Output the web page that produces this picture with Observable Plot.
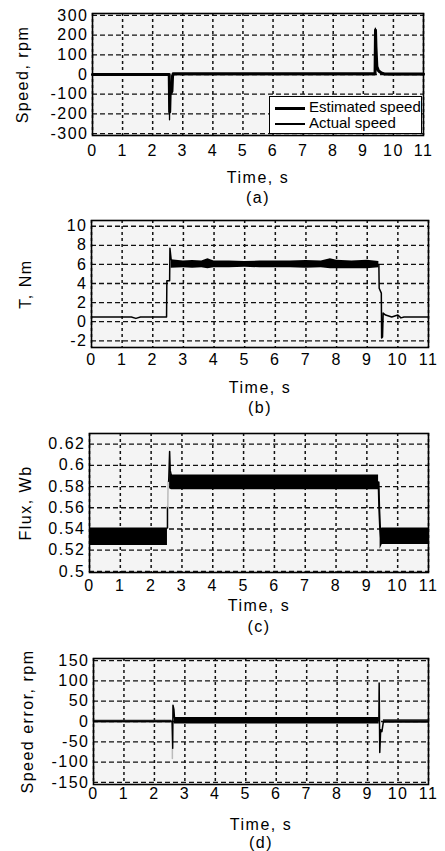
<!DOCTYPE html>
<html><head><meta charset="utf-8">
<script src="https://cdn.jsdelivr.net/npm/d3@7"></script>
<script src="https://cdn.jsdelivr.net/npm/@observablehq/plot@0.6"></script>
<style>
body{margin:0;background:#fff;}
#wrap{position:relative;width:445px;height:851px;overflow:hidden;}
#wrap > svg{position:absolute;left:0;}
#legend{position:absolute;left:269px;top:96px;width:151px;height:36px;border:1.5px solid #000;background:#fff;font-family:"Liberation Sans",Arial,sans-serif;font-size:15px;color:#000;}
#legend .row{position:absolute;left:5px;height:16px;line-height:16px;white-space:nowrap;}
#legend .ln{display:inline-block;width:30px;vertical-align:middle;margin-right:4px;background:#000;}
</style></head><body><div id="wrap"><div id="legend"><div class="row" style="top:2px"><span class="ln" style="height:3px"></span>Estimated speed</div><div class="row" style="top:18px"><span class="ln" style="height:1.5px"></span>Actual speed</div></div></div>
<script>
// ---- shared ----
const timeTicks = [0,1,2,3,4,5,6,7,8,9,10,11];

// ---- (a) speed ----
const speedTicks = [-300,-200,-100,0,100,200,300];
const speedActT = [0, 2.55, 2.56, 2.57, 2.63, 2.64, 2.66, 9.39, 9.4, 9.42, 9.44, 9.47, 9.52, 9.6, 9.68, 11];
const speedActV = [0, 0, -230, -100, -100, -5, 0, 0, 235, 150, 50, 25, 12, 5, 0, 0];
const speedEstT = [0, 2.55, 2.565, 2.58, 2.64, 2.66, 2.68, 9.39, 9.405, 9.42, 9.45, 9.5, 9.6, 9.7, 11];
const speedEstV = [0, 0, -190, -100, -85, -10, 4, 4, 225, 140, 40, 20, 8, 3, 3];

// ---- (b) torque ----
const torqueTicks = [-2,0,2,4,6,8,10];
const torqueT = [0, 1.3, 1.45, 1.6, 2.45, 2.46, 2.55, 2.56, 2.6, 2.7, 9.38, 9.39, 9.46, 9.47, 9.5, 9.52, 9.6, 9.8, 10.0, 10.1, 10.2, 11];
const torqueV = [0.5, 0.5, 0.35, 0.5, 0.5, 4.3, 4.3, 7.7, 6.5, 6.1, 6.0, 3.5, 3.0, -1.7, -1.6, 0.9, 0.7, 0.5, 0.7, 0.4, 0.5, 0.5];
const torqueBandT  = [2.6, 3.0, 3.3, 3.6, 3.8, 4.0, 4.5, 5.0, 5.5, 6.0, 6.5, 7.0, 7.5, 7.8, 8.0, 8.5, 9.0, 9.38];
const torqueBandHi = [6.5, 6.35, 6.4, 6.35, 6.6, 6.35, 6.35, 6.3, 6.35, 6.35, 6.35, 6.4, 6.35, 6.6, 6.45, 6.35, 6.45, 6.3];
const torqueBandLo = [5.6, 5.65, 5.6, 5.65, 5.55, 5.65, 5.65, 5.7, 5.65, 5.65, 5.65, 5.6, 5.65, 5.55, 5.55, 5.55, 5.55, 5.65];

// ---- (c) flux ----
const fluxTicks = [0.5,0.52,0.54,0.56,0.58,0.6,0.62];
const fluxBand1T = [0, 2.53], fluxBand1Lo = [0.5245, 0.5245], fluxBand1Hi = [0.541, 0.541];
const fluxBand2T = [2.6, 2.66, 9.38], fluxBand2Lo = [0.578, 0.577, 0.577], fluxBand2Hi = [0.595, 0.591, 0.591];
const fluxBand3T = [9.43, 9.5, 11], fluxBand3Lo = [0.521, 0.5255, 0.5255], fluxBand3Hi = [0.54, 0.541, 0.541];
const fluxStepT = [2.53, 2.53], fluxStepV = [0.541, 0.561];
const fluxGrayT = [2.54, 2.55], fluxGrayV = [0.561, 0.585];
const fluxSpikeT = [2.57, 2.6, 2.62, 2.66], fluxSpikeV = [0.585, 0.613, 0.595, 0.59];
const fluxDropT = [9.38, 9.4, 9.43, 9.47, 9.5], fluxDropV = [0.584, 0.56, 0.54, 0.528, 0.527];

// ---- (d) speed error ----
const errTicks = [-150,-100,-50,0,50,100,150];
const errBand1T = [0, 2.58], errBand1Lo = [-3, -3], errBand1Hi = [3, 3];
const errBand2T = [2.65, 9.38], errBand2Lo = [-6, -6], errBand2Hi = [10, 10];
const errBand3T = [9.52, 11], errBand3Lo = [-4, -4], errBand3Hi = [4, 4];
const errLineT = [0, 2.58, 2.6, 2.61, 2.64, 2.66, 9.37, 9.38, 9.4, 9.43, 9.47, 9.52, 11];
const errLineV = [0, 0, -66, 40, 30, 8, 2, 95, -76, -20, -25, 0, 0];
const errGrayT = [2.59, 2.59], errGrayV = [-66, -91];

// ---- helpers ----
const FONT = "'Liberation Sans', Arial, Helvetica, sans-serif";
const wrap = document.getElementById("wrap");
const pts = (T, V) => T.map((t, i) => ({t, v: V[i]}));
const band = (T, Lo, Hi) => T.map((t, i) => ({t, lo: Lo[i], hi: Hi[i]}));

function panel(o) {
  const p = Plot.plot({
    width: 445, height: o.height,
    marginTop: o.mt, marginBottom: o.mb, marginLeft: o.ml, marginRight: o.mr,
    style: {fontFamily: FONT, fontSize: "16px", fontWeight: "normal", color: "#000", background: "transparent", letterSpacing: "1.5px", overflow: "visible"},
    x: {domain: [0, 11]},
    y: {domain: o.yDomain},
    marks: [
      Plot.frame({fill: "#f4f4f4"}),
      Plot.ruleY(o.yTicks, {stroke: "#111", strokeWidth: 1.3, strokeDasharray: "5,3"}),
      Plot.ruleX(timeTicks, {stroke: "#111", strokeWidth: 1.5, strokeDasharray: "3,3"}),
      ...o.marks,
      Plot.frame({stroke: "#000", strokeWidth: 1.6}),
      Plot.axisX(timeTicks, {tickSize: 0, tickPadding: o.padX, label: null, tickFormat: d => String(d)}),
      Plot.axisY(o.yTicks, {tickSize: 0, tickPadding: 4, label: null, tickFormat: d => String(d)}),
      Plot.text([o.yLabel], {frameAnchor: "left", dx: o.yLabelDx, rotate: -90, textAnchor: "middle", lineAnchor: "middle", fontWeight: "normal"}),
      Plot.text(["Time, s"], {frameAnchor: "bottom", dy: o.timeDy, textAnchor: "middle", lineAnchor: "middle", fontWeight: "normal"}),
      Plot.text([o.tag], {frameAnchor: "bottom", dy: o.tagDy, textAnchor: "middle", lineAnchor: "middle", fontWeight: "normal"})
    ]
  });
  p.style.top = o.top + "px";
  wrap.insertBefore(p, document.getElementById("legend"));
}

// (a)
panel({
  top: 0, height: 210, mt: 13, mb: 75, ml: 92, mr: 22,
  yDomain: [-310, 310], yTicks: speedTicks, yLabel: "Speed, rpm", yLabelDx: -70,
  padX: 9, timeDy: 42, tagDy: 62, tag: "(a)",
  marks: [
    Plot.line(pts(speedEstT, speedEstV), {x: "t", y: "v", stroke: "#000", strokeWidth: 3}),
    Plot.line(pts(speedActT, speedActV), {x: "t", y: "v", stroke: "#000", strokeWidth: 1.3})
  ]
});

// (b)
panel({
  top: 210, height: 210, mt: 10, mb: 73, ml: 91, mr: 17,
  yDomain: [-2.7, 10.6], yTicks: torqueTicks, yLabel: "T, Nm", yLabelDx: -66,
  padX: 6, timeDy: 40, tagDy: 60, tag: "(b)",
  marks: [
    Plot.areaY(band(torqueBandT, torqueBandLo, torqueBandHi), {x: "t", y1: "lo", y2: "hi", fill: "#000"}),
    Plot.line(pts(torqueT, torqueV), {x: "t", y: "v", stroke: "#000", strokeWidth: 1.5})
  ]
});

// (c)
panel({
  top: 420, height: 218, mt: 13, mb: 66, ml: 89, mr: 17,
  yDomain: [0.499, 0.63], yTicks: fluxTicks, yLabel: "Flux, Wb", yLabelDx: -64,
  padX: 7, timeDy: 33, tagDy: 54, tag: "(c)",
  marks: [
    Plot.areaY(band(fluxBand1T, fluxBand1Lo, fluxBand1Hi), {x: "t", y1: "lo", y2: "hi", fill: "#000"}),
    Plot.areaY(band(fluxBand2T, fluxBand2Lo, fluxBand2Hi), {x: "t", y1: "lo", y2: "hi", fill: "#000"}),
    Plot.areaY(band(fluxBand3T, fluxBand3Lo, fluxBand3Hi), {x: "t", y1: "lo", y2: "hi", fill: "#000"}),
    Plot.line(pts(fluxStepT, fluxStepV), {x: "t", y: "v", stroke: "#000", strokeWidth: 1.5}),
    Plot.line(pts(fluxGrayT, fluxGrayV), {x: "t", y: "v", stroke: "#bbb", strokeWidth: 1.5}),
    Plot.line(pts(fluxSpikeT, fluxSpikeV), {x: "t", y: "v", stroke: "#000", strokeWidth: 1.5}),
    Plot.line(pts(fluxDropT, fluxDropV), {x: "t", y: "v", stroke: "#000", strokeWidth: 2})
  ]
});

// (d)
panel({
  top: 638, height: 213, mt: 20, mb: 67, ml: 93, mr: 17,
  yDomain: [-155, 155], yTicks: errTicks, yLabel: "Speed error, rpm", yLabelDx: -66,
  padX: 3, timeDy: 40, tagDy: 58, tag: "(d)",
  marks: [
    Plot.areaY(band(errBand1T, errBand1Lo, errBand1Hi), {x: "t", y1: "lo", y2: "hi", fill: "#222"}),
    Plot.areaY(band(errBand2T, errBand2Lo, errBand2Hi), {x: "t", y1: "lo", y2: "hi", fill: "#000"}),
    Plot.areaY(band(errBand3T, errBand3Lo, errBand3Hi), {x: "t", y1: "lo", y2: "hi", fill: "#222"}),
    Plot.line(pts(errGrayT, errGrayV), {x: "t", y: "v", stroke: "#bbb", strokeWidth: 1.5}),
    Plot.line(pts(errLineT, errLineV), {x: "t", y: "v", stroke: "#000", strokeWidth: 1.5})
  ]
});
</script>
</body></html>
